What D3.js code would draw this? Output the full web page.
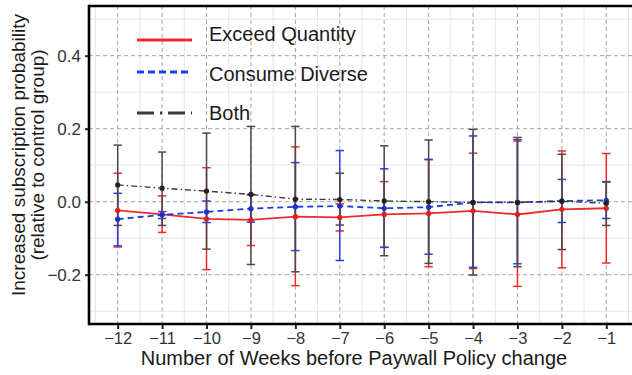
<!DOCTYPE html>
<html>
<head>
<meta charset="utf-8">
<script src="https://cdn.jsdelivr.net/npm/d3@7"></script>
<style>
  html, body { margin: 0; padding: 0; background: #fff; }
  svg { display: block; font-family: "Liberation Sans", Arial, Helvetica, sans-serif; }
</style>
</head>
<body>
<svg id="chart" width="632" height="375"></svg>
<script>
// Weeks before the paywall policy change
const weeks = [-12, -11, -10, -9, -8, -7, -6, -5, -4, -3, -2, -1];

// Exceed Quantity: estimate and confidence bounds
const exceedEst = [-0.024, -0.035, -0.047, -0.050, -0.041, -0.043, -0.035, -0.032, -0.025, -0.035, -0.021, -0.018];
const exceedLo  = [-0.124, -0.084, -0.186, -0.120, -0.230, -0.080, -0.125, -0.178, -0.183, -0.232, -0.181, -0.168];
const exceedHi  = [0.078, 0.016, 0.093, 0.020, 0.150, -0.006, 0.055, 0.115, 0.133, 0.166, 0.139, 0.132];

// Consume Diverse
const diverseEst = [-0.048, -0.036, -0.028, -0.019, -0.014, -0.012, -0.018, -0.015, -0.002, -0.002, 0.002, 0.004];
const diverseLo  = [-0.121, -0.046, -0.057, -0.056, -0.134, -0.161, -0.125, -0.144, -0.180, -0.170, -0.057, -0.046];
const diverseHi  = [0.023, -0.027, 0.002, 0.019, 0.107, 0.140, 0.090, 0.116, 0.180, 0.170, 0.061, 0.054];

// Both
const bothEst = [0.046, 0.037, 0.029, 0.020, 0.007, 0.006, 0.002, 0.000, -0.002, -0.002, 0.001, -0.004];
const bothLo  = [-0.065, -0.065, -0.130, -0.172, -0.192, -0.064, -0.148, -0.169, -0.201, -0.178, -0.131, -0.065];
const bothHi  = [0.155, 0.136, 0.188, 0.206, 0.206, 0.078, 0.153, 0.169, 0.198, 0.176, 0.130, 0.055];

const seriesNames = ["Exceed Quantity", "Consume Diverse", "Both"];
const yTicks = [-0.2, 0.0, 0.2, 0.4];
const xTicks = weeks;

const xTitle = "Number of Weeks before Paywall Policy change";
const yTitle = ["Increased subscription probability", "(relative to control group)"];

const series = [
  { name: seriesNames[0], est: exceedEst, lo: exceedLo, hi: exceedHi,
    line: "#ee2b2b", bar: "#ee2b2b", point: "#e02020", dash: null, width: 1.8 },
  { name: seriesNames[1], est: diverseEst, lo: diverseLo, hi: diverseHi,
    line: "#1c3ce6", bar: "#2a3ee0", point: "#1a30d0", dash: "6,4", width: 1.8 },
  { name: seriesNames[2], est: bothEst, lo: bothLo, hi: bothHi,
    line: "#3a3a3a", bar: "#4a4a4a", point: "#222", dash: "6,3,1.5,3", width: 1.4 }
];

const svg = d3.select("#chart");
const panel = { left: 89, top: 6, right: 640, bottom: 324 };

const x = d3.scaleLinear().domain([-12.646, -0.241]).range([panel.left, panel.right]);
const y = d3.scaleLinear().domain([-0.335, 0.536]).range([panel.bottom, panel.top]);

// panel grid
const grid = svg.append("g");
const xMinor = d3.range(-12.5, 0, 1);
const yMinor = [-0.3, -0.1, 0.1, 0.3, 0.5];
grid.selectAll(".vminor").data(xMinor).join("line")
  .attr("x1", d => x(d)).attr("x2", d => x(d))
  .attr("y1", panel.top).attr("y2", panel.bottom)
  .attr("stroke", "#e4e4e4").attr("stroke-width", 1);
grid.selectAll(".hminor").data(yMinor).join("line")
  .attr("x1", panel.left).attr("x2", panel.right)
  .attr("y1", d => y(d)).attr("y2", d => y(d))
  .attr("stroke", "#e4e4e4").attr("stroke-width", 1);
grid.selectAll(".vmajor").data(xTicks).join("line")
  .attr("x1", d => x(d)).attr("x2", d => x(d))
  .attr("y1", panel.top).attr("y2", panel.bottom)
  .attr("stroke", "#9a9a9a").attr("stroke-width", 0.9).attr("stroke-dasharray", "4,3");
grid.selectAll(".hmajor").data(yTicks).join("line")
  .attr("x1", panel.left).attr("x2", panel.right)
  .attr("y1", d => y(d)).attr("y2", d => y(d))
  .attr("stroke", "#9a9a9a").attr("stroke-width", 0.9).attr("stroke-dasharray", "4,3");

// error bars
const capHalf = 4.2;
series.forEach(s => {
  const g = svg.append("g");
  const rows = weeks.map((w, i) => ({ w, lo: s.lo[i], hi: s.hi[i] }));
  g.selectAll(".stem").data(rows).join("line")
    .attr("x1", d => x(d.w)).attr("x2", d => x(d.w))
    .attr("y1", d => y(d.lo)).attr("y2", d => y(d.hi))
    .attr("stroke", s.bar).attr("stroke-width", 1.5);
  ["lo", "hi"].forEach(k => {
    g.selectAll(".cap" + k).data(rows).join("line")
      .attr("x1", d => x(d.w) - capHalf).attr("x2", d => x(d.w) + capHalf)
      .attr("y1", d => y(d[k])).attr("y2", d => y(d[k]))
      .attr("stroke", s.bar).attr("stroke-width", 1.5);
  });
});

// estimate lines and points
series.forEach(s => {
  const rows = weeks.map((w, i) => ({ w, v: s.est[i] }));
  const line = d3.line().x(d => x(d.w)).y(d => y(d.v));
  svg.append("path").datum(rows)
    .attr("d", line).attr("fill", "none")
    .attr("stroke", s.line).attr("stroke-width", s.width)
    .attr("stroke-dasharray", s.dash);
  svg.append("g").selectAll("circle").data(rows).join("circle")
    .attr("cx", d => x(d.w)).attr("cy", d => y(d.v)).attr("r", 2.6)
    .attr("fill", s.point);
});

// panel border (left, bottom, top)
const border = svg.append("g").attr("stroke", "#000").attr("stroke-width", 2.6).attr("fill", "none");
border.append("line").attr("x1", panel.left).attr("x2", panel.left).attr("y1", panel.top - 1.3).attr("y2", panel.bottom + 1.3);
border.append("line").attr("x1", panel.left).attr("x2", panel.right).attr("y1", panel.bottom).attr("y2", panel.bottom);
border.append("line").attr("x1", panel.left).attr("x2", panel.right).attr("y1", panel.top).attr("y2", panel.top);

// axes
const yAxis = d3.axisLeft(y).tickValues(yTicks).tickSize(3).tickPadding(4)
  .tickFormat(d => d3.format(".1f")(d).replace("-", "\u2212"));
const gy = svg.append("g").attr("transform", `translate(${panel.left - 1},0)`).call(yAxis);
gy.select(".domain").remove();
gy.selectAll(".tick line").attr("stroke", "#222").attr("stroke-width", 2);
gy.selectAll(".tick text").attr("font-size", 17).attr("fill", "#333")
  .attr("font-family", "'Liberation Sans', Arial, sans-serif");

const xAxis = d3.axisBottom(x).tickValues(xTicks).tickSize(4).tickPadding(3)
  .tickFormat(d => String(d).replace("-", "\u2212"));
const gx = svg.append("g").attr("transform", `translate(0,${panel.bottom + 1})`).call(xAxis);
gx.select(".domain").remove();
gx.selectAll(".tick line").attr("stroke", "#222").attr("stroke-width", 2);
gx.selectAll(".tick text").attr("font-size", 16.5).attr("fill", "#333")
  .attr("font-family", "'Liberation Sans', Arial, sans-serif");

// axis titles
svg.append("text").attr("x", 354).attr("y", 365).attr("text-anchor", "middle")
  .attr("font-size", 20).attr("fill", "#1a1a1a").text(xTitle);
const yt = svg.append("text").attr("transform", "translate(0,155) rotate(-90)")
  .attr("text-anchor", "middle").attr("font-size", 19).attr("fill", "#1a1a1a");
yt.append("tspan").attr("x", 0).attr("y", 25).text(yTitle[0]);
yt.append("tspan").attr("x", 0).attr("y", 44).text(yTitle[1]);

// legend
const legend = svg.append("g");
const legendY = [40, 72, 113];
const legendTextY = [41, 81, 120];
const legendDash = [null, "7,4", "17,6,2,6"];
series.forEach((s, i) => {
  legend.append("line")
    .attr("x1", 137).attr("x2", 192).attr("y1", legendY[i]).attr("y2", legendY[i])
    .attr("stroke", s.line).attr("stroke-width", 3)
    .attr("stroke-dasharray", legendDash[i]);
  legend.append("text").attr("x", 209).attr("y", legendTextY[i])
    .attr("font-size", 20).attr("fill", "#1a1a1a").text(s.name);
});
</script>
</body>
</html>
